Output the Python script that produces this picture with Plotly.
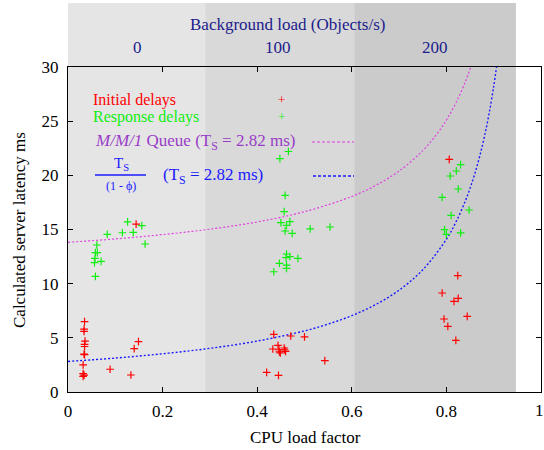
import plotly.graph_objects as go

# ---- data ----
init_x = [0.035, 0.034, 0.034, 0.036, 0.035, 0.035, 0.034, 0.035, 0.032, 0.032, 0.034, 0.032,
          0.089, 0.133, 0.140, 0.149, 0.144,
          0.435, 0.471, 0.500, 0.444, 0.433, 0.457, 0.458, 0.460, 0.447, 0.449, 0.446, 0.543, 0.420, 0.445,
          0.806, 0.824, 0.791, 0.825, 0.816, 0.844, 0.795, 0.803, 0.820]
init_y = [6.5, 5.8, 5.6, 4.7, 4.4, 4.2, 3.5, 3.45, 2.5, 1.7, 1.55, 1.45,
          2.1, 1.57, 4.0, 4.65, 15.5,
          5.32, 5.17, 5.08, 4.3, 3.97, 4.06, 3.9, 3.75, 3.7, 3.6, 3.9, 2.9, 1.82, 1.54,
          21.48, 10.74, 9.14, 8.65, 8.37, 6.98, 6.74, 6.06, 4.77]

resp_x = [0.126, 0.156, 0.083, 0.115, 0.138, 0.163, 0.061, 0.058, 0.062, 0.057, 0.070, 0.056, 0.058,
          0.466, 0.448, 0.459, 0.457, 0.450, 0.462, 0.469, 0.459, 0.474, 0.512, 0.554,
          0.462, 0.461, 0.469, 0.486, 0.447, 0.462, 0.462, 0.435,
          0.830, 0.821, 0.808, 0.825, 0.791, 0.848, 0.810, 0.796, 0.800, 0.830]
resp_y = [15.7, 15.35, 14.55, 14.7, 14.74, 13.66, 13.57, 12.86, 12.86, 12.34, 12.06, 11.94, 10.68,
          22.2, 21.55, 18.15, 16.65, 15.63, 15.38, 15.72, 14.86, 14.65, 15.05, 15.23,
          12.74, 12.4, 12.5, 12.34, 11.88, 11.72, 11.42, 11.1,
          20.99, 20.4, 19.94, 18.74, 17.97, 16.8, 16.31, 14.98, 14.55, 14.68]

# model curves
mm1_x = [0.0, 0.1, 0.2, 0.3, 0.4, 0.5, 0.6, 0.65, 0.7, 0.75, 0.78, 0.8, 0.82, 0.84, 0.852]
mm1_y = [13.82, 14.13, 14.53, 15.03, 15.70, 16.64, 18.05, 19.06, 20.40, 22.28, 23.82, 25.10, 26.67, 28.63, 30.05]
frac_x = [0.0, 0.1, 0.2, 0.3, 0.4, 0.5, 0.55, 0.6, 0.65, 0.7, 0.75, 0.8, 0.82, 0.84, 0.85, 0.86, 0.87, 0.88, 0.89, 0.9, 0.906]
frac_y = [2.82, 3.13, 3.53, 4.03, 4.70, 5.64, 6.27, 7.05, 8.06, 9.40, 11.28, 14.10, 15.67, 17.63, 18.80, 20.14, 21.69, 23.50, 25.64, 28.20, 30.0]

x_ticks = [0, 0.2, 0.4, 0.6, 0.8]
x_tick_labels = ["0", "0.2", "0.4", "0.6", "0.8"]
y_ticks = [0, 5, 10, 15, 20, 25, 30]

band_edges = [0.0, 0.29, 0.605, 0.947]
band_colors = ["#e5e5e5", "#d9d9d9", "#cbcbcb"]
bg_load_labels = ["0", "100", "200"]
bg_load_pos = [0.146, 0.444, 0.776]

FONT = "Times New Roman, Liberation Serif, DejaVu Serif, serif"
RED = "#ff0000"
GREEN = "#11ee11"
MAG = "#e040e0"
PURPLE = "#9a3cc8"
BLUE = "#1a1aff"
NAVY = "#1c1c8c"

fig = go.Figure()

fig.add_trace(go.Scatter(x=mm1_x, y=mm1_y, mode="lines", line=dict(color=MAG, width=1.2, dash="2px,2px", shape="spline"),
                         showlegend=False, hoverinfo="skip"))
fig.add_trace(go.Scatter(x=frac_x, y=frac_y, mode="lines", line=dict(color=BLUE, width=1.4, dash="2px,2px", shape="spline"),
                         showlegend=False, hoverinfo="skip"))
fig.add_trace(go.Scatter(x=init_x, y=init_y, mode="markers",
                         marker=dict(symbol="cross-thin", size=5.5, line=dict(color=RED, width=1.2)),
                         showlegend=False))
fig.add_trace(go.Scatter(x=resp_x, y=resp_y, mode="markers",
                         marker=dict(symbol="cross-thin", size=5.5, line=dict(color=GREEN, width=1.2)),
                         showlegend=False))

L, R, T, B = 68, 3, 67, 58
W, H = 544, 450
pw, ph = W - L - R, H - T - B


def px(xp):
    return (xp - L) / pw


def py(yp):
    return (H - B - yp) / ph


shapes = []
for i in range(3):
    shapes.append(dict(type="rect", xref="x", yref="paper", x0=band_edges[i], x1=band_edges[i + 1],
                       y0=0, y1=py(3), fillcolor=band_colors[i], line=dict(width=0), layer="below"))
# legend line samples
shapes.append(dict(type="line", xref="paper", yref="paper", x0=px(312), x1=px(354), y0=py(142), y1=py(142),
                   line=dict(color=MAG, width=1.2, dash="3px,2px")))
shapes.append(dict(type="line", xref="paper", yref="paper", x0=px(313), x1=px(354), y0=py(176), y1=py(176),
                   line=dict(color=BLUE, width=1.4, dash="3px,2px")))
# fraction bar
shapes.append(dict(type="line", xref="paper", yref="paper", x0=px(95), x1=px(146), y0=py(175), y1=py(175),
                   line=dict(color=BLUE, width=1.6)))

ann = []


def text(x, y, s, color, size=17, xanchor="left", **kw):
    ann.append(dict(xref="paper", yref="paper", x=px(x), y=py(y), text=s, showarrow=False,
                    xanchor=xanchor, yanchor="middle", font=dict(family=FONT, size=size, color=color), **kw))


text(91, 100, "Initial delays", RED, size=16)
text(91, 117, "Response delays", GREEN, size=16)
text(281, 99, "+", RED, size=13, xanchor="center")
text(281, 116, "+", GREEN, size=13, xanchor="center")
text(93, 142, "<i>M/M/1</i> Queue (T<sub>S</sub> = 2.82 ms)", PURPLE)
text(121, 164, "T<sub>S</sub>", BLUE, size=15, xanchor="center")
text(121, 186, "(1 - ϕ)", BLUE, size=12, xanchor="center")
text(161, 176, "(T<sub>S</sub> = 2.82 ms)", BLUE)
text(539, 410, "1", "black", xanchor="center")

for lab, pos in zip(bg_load_labels, bg_load_pos):
    ann.append(dict(xref="x", yref="paper", x=pos, y=py(47), text=lab, showarrow=False, xanchor="center",
                    yanchor="middle", font=dict(family=FONT, size=17, color=NAVY)))
text(287, 24, "Background load (Objects/s)", NAVY, xanchor="center")
text(305, 437, "CPU load factor", "black", xanchor="center")
ann.append(dict(xref="paper", yref="paper", x=px(20), y=py(230), text="Calculated server latency ms",
                showarrow=False, textangle=-90, xanchor="center", yanchor="middle",
                font=dict(family=FONT, size=17, color="black")))

axis_common = dict(showgrid=False, zeroline=False, showline=True, linecolor="black", linewidth=1.2,
                   mirror="allticks", ticks="inside", ticklen=5, tickcolor="black",
                   tickfont=dict(family=FONT, size=17, color="black"))

fig.update_layout(
    width=W, height=H,
    margin=dict(l=L, r=R, t=T, b=B),
    paper_bgcolor="white", plot_bgcolor="white",
    font=dict(family=FONT, size=17),
    shapes=shapes, annotations=ann,
    xaxis=dict(range=[0, 1], tickvals=x_ticks, ticktext=x_tick_labels, ticklabelstandoff=3,
               **axis_common),
    yaxis=dict(range=[0, 30], tickvals=y_ticks, ticklabelstandoff=5, **axis_common),
)

fig.write_html("out.html")
